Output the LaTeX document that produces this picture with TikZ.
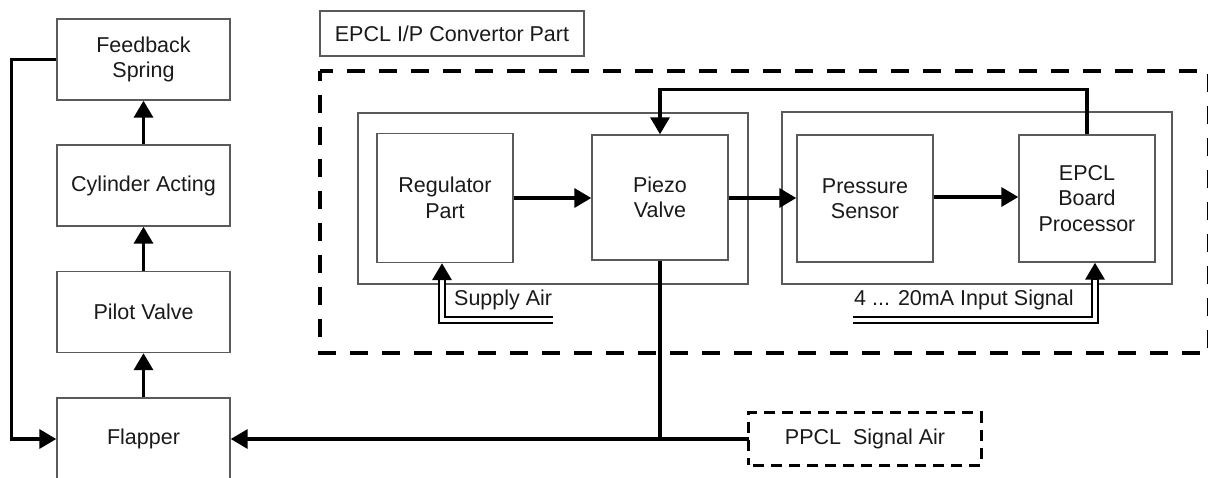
\documentclass[tikz,border=0pt]{standalone}
\usepackage{fontspec}
\setmainfont{Liberation Sans}
\usetikzlibrary{arrows.meta}
\definecolor{boxgray}{HTML}{5A5A5A}
\definecolor{txt}{HTML}{1A1A1A}
\begin{document}
\begin{tikzpicture}[x=1pt,y=-1pt,
  blk/.style={draw=boxgray, line width=1.4pt, inner sep=0pt, align=center,
    font=\fontsize{21.5}{25.5}\selectfont, text=txt},
  colblk/.style={blk, minimum width=173pt, minimum height=81pt},
  inblk/.style={blk, minimum width=136pt, minimum height=127pt},
  container/.style={draw=boxgray, line width=1.3pt},
  bigdash/.style={draw=black, line width=3.2pt, dash pattern=on 18pt off 14pt, dash phase=8pt},
  smalldash/.style={draw=black, line width=2.8pt, dash pattern=on 11pt off 7pt, dash phase=4pt},
  conn/.style={draw=black, line width=3.5pt},
  arr/.style={conn, -{Triangle[length=17pt,width=19pt]}},
  dbl/.style={draw=black, double=white, double distance=3.2pt, line width=2.7pt},
  lbl/.style={font=\fontsize{21.5}{25.5}\selectfont, text=txt, inner sep=0pt}
]
\useasboundingbox (0,0) rectangle (1208,477);
\clip (0,0) rectangle (1208,477);
\fill[white] (0,0) rectangle (1208,477);

% left column
\node[colblk] (fb) at (143.5,59.5) {Feedback\\Spring};
\node[colblk] (cyl) at (143.5,185.5) {Cylinder Acting};
\node[colblk] (pilot) at (143.5,312) {Pilot Valve};
\node[colblk, minimum height=82pt] (flap) at (143.5,439) {Flapper};

\draw[arr] (flap.north) -- (pilot.south);
\draw[arr] (pilot.north) -- (cyl.south);
\draw[arr] (cyl.north) -- (fb.south);
\draw[arr] (fb.west) -- ++(-45,0) |- (flap.west);

% EPCL label
\node[blk, minimum width=264pt, minimum height=45pt] (title) at (452,33.5) {EPCL I/P Convertor Part};

% big dashed region
\draw[bigdash] (320,71) rectangle (1208.5,353);

% containers
\draw[container] (358,113) rectangle (748,284);
\draw[container] (782,112) rectangle (1172,284);

% inner blocks
\node[inblk, minimum height=129pt] (reg) at (445,198) {Regulator\\Part};
\node[inblk, minimum height=125pt] (piezo) at (660,197.5) {Piezo\\Valve};
\node[inblk] (ps) at (865,198.5) {Pressure\\Sensor};
\node[inblk] (epcl) at (1087,198.5) {EPCL\\Board\\Processor};

\draw[arr] (reg.east |- 0,198) -- (piezo.west |- 0,198);
\draw[arr] (piezo.east |- 0,198) -- (ps.west |- 0,198);
\draw[arr] (ps.east |- 0,197) -- (epcl.west |- 0,197);
\draw[arr] (epcl.north) -- ++(0,-45) -| (piezo.north);

% supply air
\coordinate (supin) at (553,320);
\draw[dbl] (supin) -| ([xshift=-3pt,yshift=-16pt]reg.south);
\draw[arr] ([xshift=-3pt,yshift=-16pt]reg.south) -- ([xshift=-3pt]reg.south);
\node[lbl, anchor=west] (suplbl) at (454,300) {Supply Air};

% input signal
\coordinate (sigin) at (853,320);
\draw[dbl] (sigin) -| ([xshift=8pt,yshift=-16pt]epcl.south);
\draw[arr] ([xshift=8pt,yshift=-16pt]epcl.south) -- ([xshift=8pt]epcl.south);
\node[lbl, anchor=west] (siglbl) at (854,300) {4 ... 20mA Input Signal};

% PPCL signal air
\node[inner sep=0pt, minimum width=232pt, minimum height=52pt,
      font=\fontsize{21.5}{25.5}\selectfont, text=txt] (ppcl) at (865,439) {PPCL\ \ Signal Air};
\draw[smalldash] (ppcl.south west) rectangle (ppcl.north east);
\draw[arr] (ppcl.west) -- (flap.east);
\draw[conn] (piezo.south) -- (piezo.south |- ppcl.west);
\end{tikzpicture}
\end{document}
